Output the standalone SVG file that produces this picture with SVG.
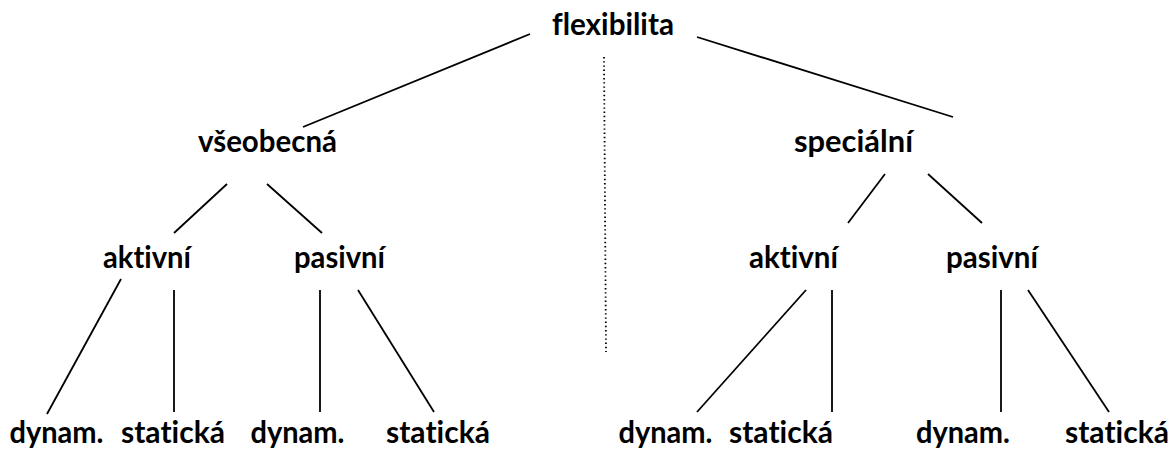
<svg xmlns="http://www.w3.org/2000/svg" width="1175" height="450" viewBox="0 0 1175 450">
<style>
text{font-family:"Lato","Open Sans","Liberation Sans",sans-serif;font-weight:bold;font-size:30px;fill:#000;text-anchor:middle;font-variant-ligatures:none;font-feature-settings:"liga" 0,"clig" 0}
.c line{stroke:#000;stroke-width:1.8;stroke-linecap:butt}
.dot{stroke:#000;stroke-width:1.4;stroke-dasharray:1.4 2.8}
</style>
<rect width="1175" height="450" fill="#fff"/>
<g class="c" id="connectors">
<line x1="530" y1="34" x2="303" y2="127"/>
<line x1="697" y1="37" x2="953" y2="117"/>
<line x1="227" y1="184" x2="174" y2="233"/>
<line x1="267" y1="184" x2="322" y2="233"/>
<line x1="885" y1="174" x2="848" y2="223"/>
<line x1="928" y1="174" x2="982" y2="223"/>
<line x1="121" y1="279" x2="47" y2="414"/>
<line x1="174" y1="290" x2="174" y2="412"/>
<line x1="320" y1="290" x2="320" y2="412"/>
<line x1="358" y1="290" x2="434" y2="412"/>
<line x1="806" y1="290" x2="697" y2="412"/>
<line x1="832" y1="290" x2="832" y2="412"/>
<line x1="1001" y1="290" x2="1001" y2="412"/>
<line x1="1028" y1="290" x2="1109" y2="412"/>
<line class="dot" x1="604" y1="57" x2="606" y2="352"/>
</g>
<g id="n-flexibilita"><text x="613" y="35" textLength="122" lengthAdjust="spacingAndGlyphs">flexibilita</text></g>
<g id="n-vseobecna"><text x="267.5" y="152" textLength="139" lengthAdjust="spacingAndGlyphs">všeobecná</text></g>
<g id="n-specialni"><text x="853.5" y="152" textLength="119" lengthAdjust="spacingAndGlyphs">speciální</text></g>
<g id="n-aktivni-l"><text x="147" y="268" textLength="88" lengthAdjust="spacingAndGlyphs">aktivní</text></g>
<g id="n-pasivni-l"><text x="339.5" y="268" textLength="91" lengthAdjust="spacingAndGlyphs">pasivní</text></g>
<g id="n-aktivni-r"><text x="793.5" y="268" textLength="89" lengthAdjust="spacingAndGlyphs">aktivní</text></g>
<g id="n-pasivni-r"><text x="992" y="268" textLength="92" lengthAdjust="spacingAndGlyphs">pasivní</text></g>
<g id="n-dynam-1"><text x="56.5" y="443" textLength="94" lengthAdjust="spacingAndGlyphs">dynam.</text></g>
<g id="n-staticka-1"><text x="173" y="443" textLength="104" lengthAdjust="spacingAndGlyphs">statická</text></g>
<g id="n-dynam-2"><text x="297.5" y="443" textLength="94" lengthAdjust="spacingAndGlyphs">dynam.</text></g>
<g id="n-staticka-2"><text x="438" y="443" textLength="104" lengthAdjust="spacingAndGlyphs">statická</text></g>
<g id="n-dynam-3"><text x="665.5" y="443" textLength="94" lengthAdjust="spacingAndGlyphs">dynam.</text></g>
<g id="n-staticka-3"><text x="781" y="443" textLength="104" lengthAdjust="spacingAndGlyphs">statická</text></g>
<g id="n-dynam-4"><text x="963" y="443" textLength="94" lengthAdjust="spacingAndGlyphs">dynam.</text></g>
<g id="n-staticka-4"><text x="1117" y="443" textLength="104" lengthAdjust="spacingAndGlyphs">statická</text></g>
</svg>
